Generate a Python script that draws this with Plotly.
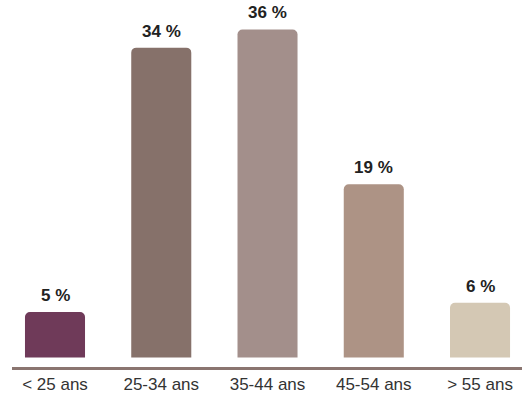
import plotly.graph_objects as go

categories = ["< 25 ans", "25-34 ans", "35-44 ans", "45-54 ans", "> 55 ans"]
values = [5, 34, 36, 19, 6]
labels = ["5 %", "34 %", "36 %", "19 %", "6 %"]
colors = ["#6f3a59", "#86716a", "#a38f8b", "#ad9385", "#d4c8b4"]

fig = go.Figure()
fig.add_trace(go.Bar(
    x=categories, y=values, marker=dict(color=colors, line=dict(width=0), cornerradius=5),
    hoverinfo="skip",
))
for c, v, t in zip(categories, values, labels):
    fig.add_annotation(x=c, y=v, text="<b>%s</b>" % t, showarrow=False,
                       yanchor="bottom", yshift=5,
                       font=dict(family="Liberation Sans, Arial", size=17, color="#222222"))

fig.update_layout(
    width=524, height=396,
    margin=dict(l=0, r=0, t=0, b=29),
    paper_bgcolor="white", plot_bgcolor="white",
    bargap=0.435,
    showlegend=False,
    xaxis=dict(domain=[12/524, 522/524], range=[-0.4047, 4.395],
               showline=True, linecolor="#8a7570", linewidth=3,
               ticks="", showgrid=False, zeroline=False,
               tickfont=dict(family="Liberation Sans, Arial", size=17, color="#333333")),
    yaxis=dict(range=[-1.044, 39.23], visible=False, showgrid=False, zeroline=False),
)
fig.write_html("out.html")
